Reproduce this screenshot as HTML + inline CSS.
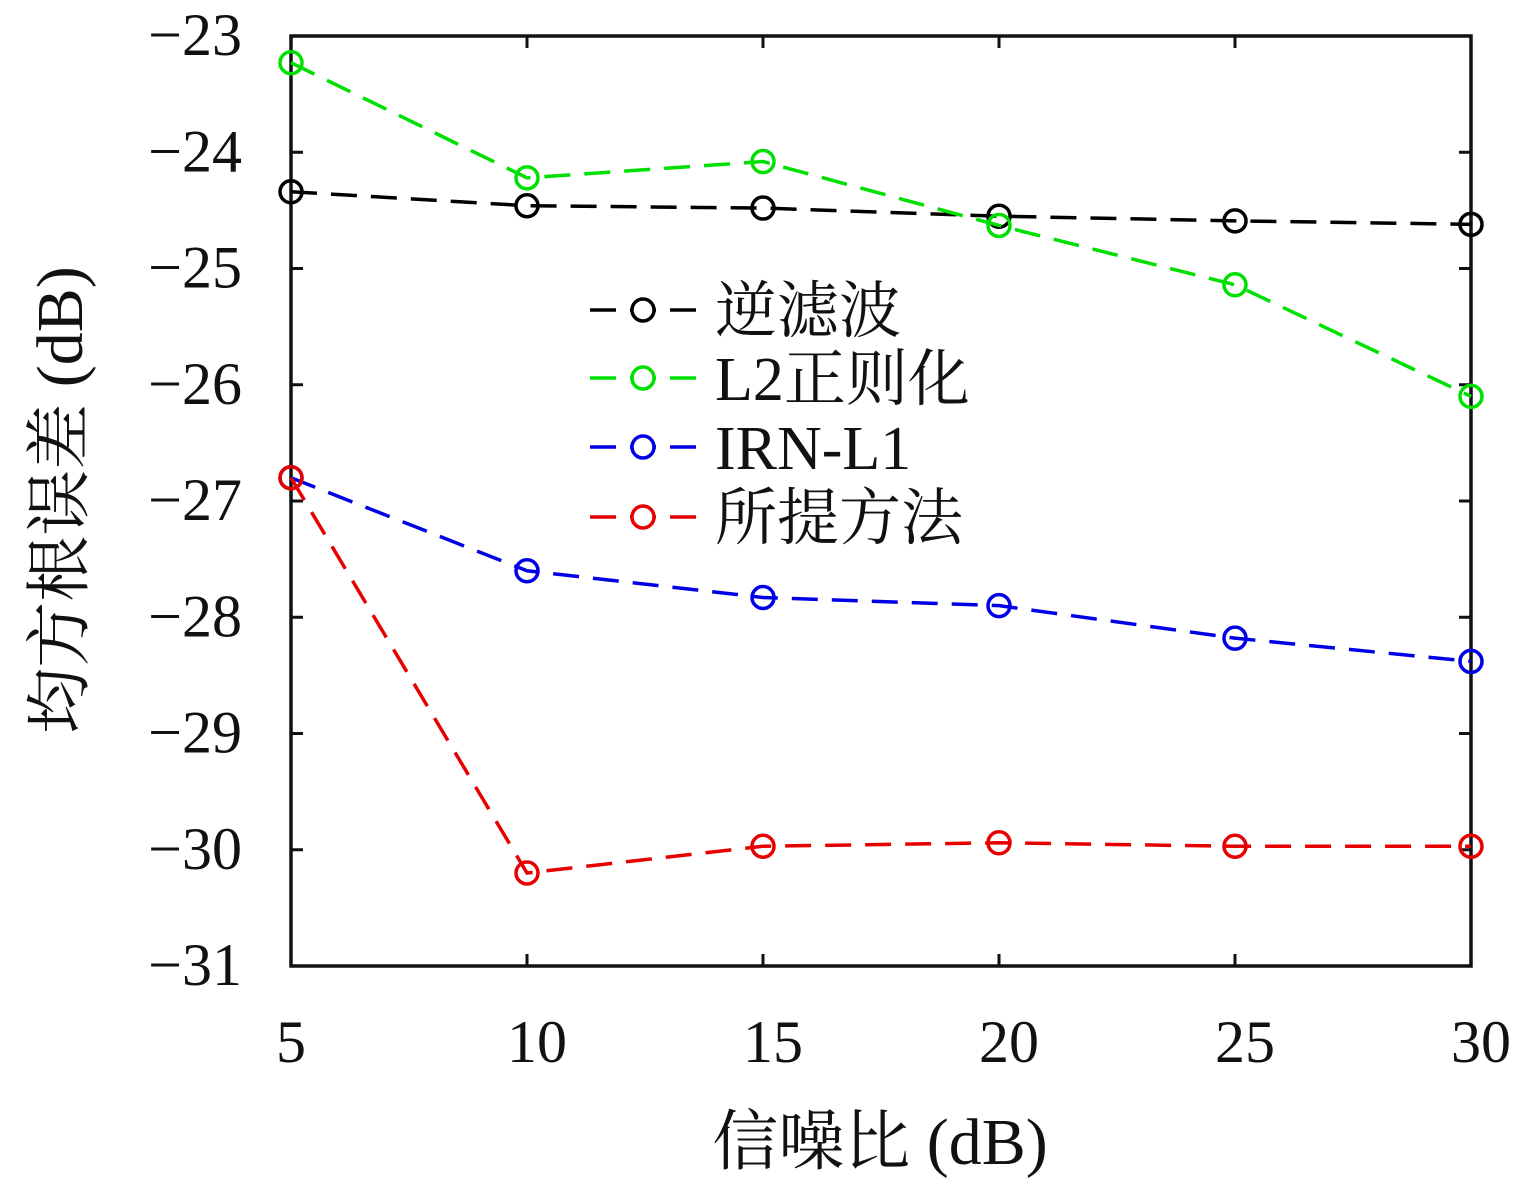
<!DOCTYPE html>
<html><head><meta charset="utf-8"><style>
html,body{margin:0;padding:0;background:#fff;}
svg{display:block;}
text{font-family:"Liberation Serif","Noto Serif CJK SC",serif;fill:#111;}
</style></head><body>
<svg id="chart" width="1535" height="1180" viewBox="0 0 1535 1180"></svg>
<script>
const snr=[5,10,15,20,25,30];
const inverseFilter=[-24.34,-24.46,-24.48,-24.55,-24.59,-24.62];
const l2Reg=[-23.23,-24.22,-24.08,-24.63,-25.14,-26.10];
const irnL1=[-26.80,-27.60,-27.83,-27.90,-28.18,-28.38];
const proposed=[-26.80,-30.20,-29.97,-29.94,-29.97,-29.97];
const xTicks=[5,10,15,20,25,30];
const yTicks=[-23,-24,-25,-26,-27,-28,-29,-30,-31];
const seriesNames=["逆滤波","L2正则化","IRN-L1","所提方法"];
const seriesColors=["#000","#00e000","#0000e6","#e60000"];
const seriesData=[inverseFilter,l2Reg,irnL1,proposed];
const seriesKeys=["inverse-filter","l2-regularization","irn-l1","proposed-method"];

const L=291,R=1471,T=36,B=966;
const xs=v=>L+(v-5)/(30-5)*(R-L);
const ys=v=>T+(-23-v)/(8)*(B-T);
const svg=document.getElementById('chart');
const NS='http://www.w3.org/2000/svg';
function mk(tag,attrs,parent){const e=document.createElementNS(NS,tag);for(const k in attrs)e.setAttribute(k,attrs[k]);(parent||svg).appendChild(e);return e;}

const frame=mk('rect',{x:L,y:T,width:R-L,height:B-T,fill:'none',stroke:'#111','stroke-width':3.5});



xTicks.forEach(v=>{
  const x=xs(v);
  const t1=mk('line',{x1:x,y1:B,x2:x,y2:B-12,stroke:'#111','stroke-width':3});
  
  
  const t2=mk('line',{x1:x,y1:T,x2:x,y2:T+12,stroke:'#111','stroke-width':3});
  
  
  const lb=mk('text',{x:x+(v>=10?10:0),y:1062,'font-size':60,'text-anchor':'middle'});
  lb.textContent=v;
  
  
});
yTicks.forEach(v=>{
  const y=ys(v);
  const t1=mk('line',{x1:L,y1:y,x2:L+12,y2:y,stroke:'#111','stroke-width':3});
  
  
  const t2=mk('line',{x1:R,y1:y,x2:R-12,y2:y,stroke:'#111','stroke-width':3});
  
  
  const lb=mk('text',{x:242,y:y+19,'font-size':60,'text-anchor':'end'});
  lb.textContent='\u2212'+Math.abs(v);
  
  
});

seriesData.forEach((d,i)=>{
  const g=mk('g',{});
  
  
  const pts=d.map((v,j)=>xs(snr[j])+','+ys(v)).join(' ');
  const pl=mk('polyline',{points:pts,fill:'none',stroke:seriesColors[i],'stroke-width':3.5,'stroke-dasharray':'26 14'},g);
  
  
  d.forEach((v,j)=>{
    const c=mk('circle',{cx:xs(snr[j]),cy:ys(v),r:11,fill:'none',stroke:seriesColors[i],'stroke-width':3.5},g);
    
    
  });
});

const lg=mk('g',{});


const legY=[310,378,447,517];
seriesNames.forEach((n,i)=>{
  const y=legY[i];
  const e=mk('g',{},lg);
  
  
  mk('line',{x1:590,y1:y,x2:697,y2:y,stroke:seriesColors[i],'stroke-width':3.5,'stroke-dasharray':'26 14'},e);
  mk('circle',{cx:643,cy:y,r:11,fill:'#fff',stroke:seriesColors[i],'stroke-width':3.5},e);
  const t=mk('text',{x:715,y:y+22,'font-size':62},e);
  t.textContent=n;
});

const xl=mk('text',{x:880,y:1164,'font-size':66,'text-anchor':'middle'});
xl.textContent='信噪比 (dB)';


const yl=mk('text',{x:0,y:0,'font-size':66,'text-anchor':'middle',transform:'translate(82,500) rotate(-90)'});
yl.textContent='均方根误差 (dB)';


</script>
</body></html>
